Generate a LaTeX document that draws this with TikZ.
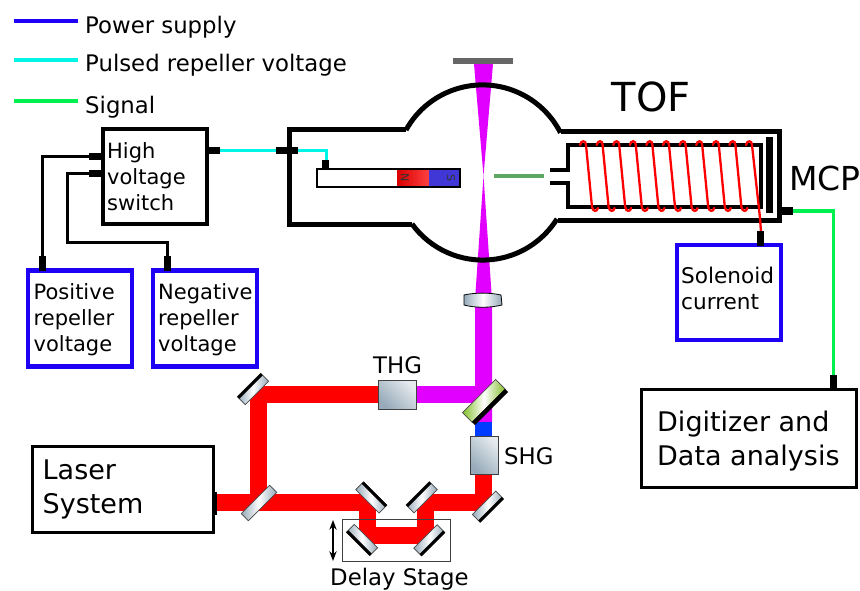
\documentclass[tikz,border=0pt]{standalone}
\usepackage{fontspec}
\setmainfont{DejaVu Sans}
\usetikzlibrary{arrows.meta}
\definecolor{beamred}{RGB}{255,0,0}
\definecolor{beamuv}{RGB}{225,0,255}
\definecolor{beamblue}{RGB}{0,60,255}
\definecolor{supplyblue}{RGB}{30,0,245}
\definecolor{pulsecyan}{RGB}{0,245,230}
\definecolor{signalgreen}{RGB}{0,240,80}
\definecolor{steel}{RGB}{150,170,185}
\definecolor{iongreen}{RGB}{95,165,100}
\definecolor{coating}{RGB}{130,190,40}
\definecolor{magnetblue}{RGB}{65,55,215}
\tikzset{
  lbl/.style={inner sep=0pt,align=left,anchor=west,font=\fontsize{22.8}{26}\selectfont},
  boxtext/.style={inner sep=0pt,align=left,anchor=west,font=\fontsize{21}{26}\selectfont},
  bigtext/.style={inner sep=0pt,align=left,anchor=west,font=\fontsize{27}{34}\selectfont},
  switchbox/.style={draw,line width=4.5pt,minimum width=104pt,minimum height=95pt,inner sep=0pt},
  supplybox/.style={draw=supplyblue,line width=4.5pt,minimum width=104pt,minimum height=96pt,inner sep=0pt},
  plug/.style={line width=7pt,black},
  wire/.style={line width=3pt,black},
  chamber/.style={line width=5pt,line join=miter},
  laserbeam/.style={line width=17pt,beamred},
  crystal/.style={draw=black!75,line width=1pt,left color=steel!25,right color=steel,shading angle=-45},
}
% mirror: x, y, angle, coating side (+1 or -1)
\newcommand{\mirror}[4]{
  \begin{scope}[shift={(#1,#2)},rotate=#3]
    \fill[draw=black!70,line width=.7pt,left color=steel,right color=steel,middle color=white] (-16.5,-5.5) rectangle (16.5,5.5);
    \fill[black] (-16.5,#4*5.8) rectangle (16.5,#4*2.8);
  \end{scope}
}
\begin{document}
\begin{tikzpicture}[x=1pt,y=1pt,yscale=-1]
\useasboundingbox (0,0) rectangle (860,591);

%Legend
\draw[line width=4pt,supplyblue] (14,21) -- (78,21);
\draw[line width=4pt,pulsecyan] (14,60) -- (78,60);
\draw[line width=4pt,signalgreen] (14,101) -- (78,101);
\node[lbl] (power) at (85,27.5) {Power supply};
\node[lbl] (pulsed) at (85,65) {Pulsed repeller voltage};
\node[lbl] (signal) at (85,107) {Signal};

%Beam in chamber
\fill[beamuv] (474,64) -- (493,64) -- (483.5,176) -- (492,300) -- (492,422) -- (475,422) -- (475,300) -- (483.5,176) -- cycle;
\fill[black!60] (453,58) rectangle (513,64.5);

%Chamber
\draw[chamber] (406,130) -- (289,130) -- (289,224) -- (412,224);
\draw[chamber] (406,130) arc[start angle=209,end angle=333,radius=87.5];
\draw[chamber] (412,224) arc[start angle=144,end angle=32,radius=87.5];
\draw[chamber] (561,132) -- (779,132) -- (779,220) -- (558,220);

%Flight tube
\draw[line width=4pt] (550,170) -- (568,170) -- (568,145) -- (761,145) -- (761,207) -- (568,207) -- (568,183) -- (550,183);
\fill (766,137) rectangle (773,213);
\draw[line width=4pt,iongreen] (494,176) -- (544,176);

%Coil
\foreach \i in {0,...,9}
  \draw[line width=2.3pt,beamred,line cap=round] ({580+16.6*\i},145) .. controls ({581+16.6*\i},140) and ({586+16.6*\i},140) .. ({586+16.6*\i},145) -- ({592+16.6*\i},207) .. controls ({593+16.6*\i},212) and ({597+16.6*\i},212) .. ({598+16.6*\i},208);
\draw[line width=2.3pt,beamred,line cap=round] (746,145) .. controls (747,140) and (752,140) .. (752,145) -- (760,218) -- (761,232);

%Repeller
\draw[line width=2.8pt] (317,169) rectangle (460,187);
\fill[left color=beamred!85!black,right color=beamred!75!white] (397,170.4) rectangle (429,185.6);
\fill[magnetblue] (429,170.4) rectangle (458.6,185.6);
\node[rotate=-90,inner sep=0pt,text=black!80,font=\fontsize{11}{11}\selectfont] (north) at (405,178) {N};
\node[rotate=-90,inner sep=0pt,text=black!80,font=\fontsize{11}{11}\selectfont] (south) at (451,178) {S};

%Boxes
\node[switchbox] (switch) at (155,176.5) {};
\node[boxtext] (switchtext) at (107,176.5) {High\\voltage\\switch};
\node[supplybox] (positive) at (80,318.5) {};
\node[boxtext] (positivetext) at (33.5,320) {Positive\\repeller\\voltage};
\node[supplybox] (negative) at (205,318.5) {};
\node[boxtext] (negativetext) at (158,320) {Negative\\repeller\\voltage};
\node[supplybox,minimum height=95pt] (solenoid) at (729,292.5) {};
\node[boxtext,font=\fontsize{21.6}{26}\selectfont] (solenoidtext) at (681,288) {Solenoid\\current};
\node[draw,line width=3pt,minimum width=215pt,minimum height=98pt,inner sep=0pt] (digitizer) at (748.5,438) {};
\node[bigtext] (digitizertext) at (657,441) {Digitizer and\\Data analysis};
\node[draw,line width=3pt,minimum width=181pt,minimum height=86pt,inner sep=0pt] (laser) at (122.5,489) {};
\node[bigtext] (lasertext) at (42.5,489) {Laser\\System};

%Wires
\draw[wire] (89,157) -| (42,258);
\draw[wire] (89,174) -| (67,242.5) -| (167,258);
\draw[line width=3pt,pulsecyan] (220,151) -- (326,151) -- (326,162);
\draw[line width=3pt,signalgreen] (793,211) -- (833,211) -- (833,376);
\draw[plug] (89,157) -- (105,157);
\draw[plug] (89,174) -- (105,174);
\draw[plug] (42,256) -- (42,271);
\draw[plug] (167,256) -- (167,271);
\draw[plug] (207,151) -- (220,151);
\draw[plug] (276,151) -- (298,151);
\draw[plug] (325,160) -- (325,170);
\draw[plug] (779,211) -- (793,211);
\draw[plug] (760.5,231) -- (760.5,246);
\draw[plug] (833,375) -- (833,389);

%Lens
\draw[line width=.8pt,left color=steel,right color=steel,middle color=white] (464,295) .. controls (475,292.5) and (490,292.5) .. (501,295) -- (502,305) .. controls (490,308) and (475,308) .. (464,305) -- cycle;

%Laser path
\draw[laserbeam] (217,502.5) -- (367,502.5) -- (367,535) -- (425.5,535) -- (425.5,502.5) -- (483.5,502.5) -- (483.5,470);
\draw[laserbeam] (258.5,502.5) -- (258.5,394.5) -- (380,394.5);
\draw[line width=17pt,beamuv] (414,394.5) -- (483.5,394.5);
\draw[line width=17pt,beamblue] (483.5,438) -- (483.5,421.7);
\fill (213,492) rectangle (217,515);

%Delay stage
\draw[line width=.8pt,black!75] (342,519) rectangle (450,561);
\draw[{Stealth}-{Stealth},line width=1.5pt] (333,520) -- (333,561);
\node[lbl] (delay) at (330,579.5) {Delay Stage};

%Optics
\mirror{253}{389}{-45}{-1}
\fill[draw=black!70,line width=.7pt,rotate around={-45:(259,503)},left color=steel,right color=steel,middle color=white] (239,498) rectangle (279,508);
\mirror{371.3}{497.5}{45}{-1}
\mirror{421.7}{497.3}{-45}{-1}
\mirror{488}{506.7}{-45}{1}
\mirror{362}{540}{45}{1}
\mirror{429.3}{540.3}{-45}{1}
\begin{scope}[shift={(485.3,402.3)},rotate=-45]
  \fill[draw=black!70,line width=.7pt,left color=coating,right color=coating,middle color=white] (-23.5,-8.8) rectangle (23.5,4.8);
  \fill (-23.5,4.5) rectangle (23.5,8.8);
\end{scope}
\draw[crystal] (378,380) rectangle (416,409);
\draw[crystal] (470,436) rectangle (498,474);
\node[lbl] (thg) at (373,365) {THG};
\node[lbl] (shg) at (504,456) {SHG};

%Titles
\node[lbl,font=\fontsize{40}{40}\selectfont] (tof) at (611.5,97) {TOF};
\node[lbl,font=\fontsize{33}{33}\selectfont] (mcp) at (789,178) {MCP};
\end{tikzpicture}
\end{document}
